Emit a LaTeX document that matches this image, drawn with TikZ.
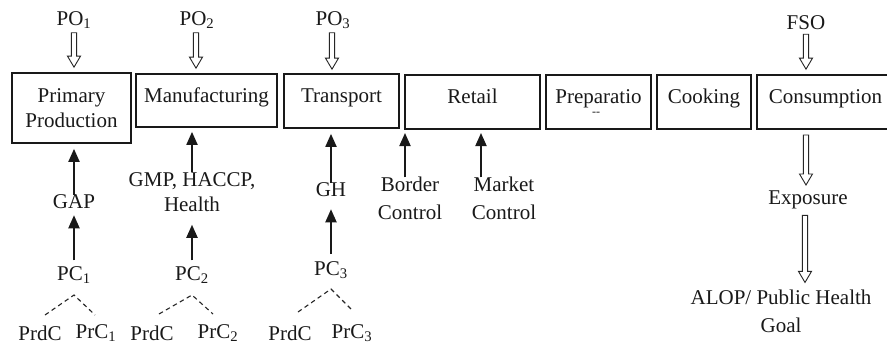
\documentclass[tikz,border=0pt]{standalone}
\usepackage{fontspec}
\setmainfont{Liberation Serif}
\usetikzlibrary{arrows.meta,calc}
\newcommand{\hollowdown}[2]{%
  \draw[hollowarrow] let \p1=(#1), \p2=(#2) in
    (\x1-2.6pt,\y1) -- (\x1-2.6pt,\y2+11pt) -- (\x1-6.5pt,\y2+11pt) -- (\x1,\y2)
    -- (\x1+6.5pt,\y2+11pt) -- (\x1+2.6pt,\y2+11pt) -- (\x1+2.6pt,\y1) -- cycle;}
\begin{document}
\begin{tikzpicture}[x=1pt,y=-1pt,
  every node/.style={font=\fontsize{21}{25}\selectfont, inner sep=2pt, text=black!90},
  stagebox/.style={draw=black!90, line width=1.7pt, inner sep=0pt, minimum height=54pt,
    text height=12pt, text depth=10pt},
  hollowarrow/.style={draw=black!85, line width=0.9pt, fill=white, line join=miter},
  sarrow/.style={draw=black!90, line width=1.9pt, -{Triangle[length=13pt,width=11pt]}},
  dashline/.style={draw=black!85, line width=1.1pt, dash pattern=on 4.5pt off 3.5pt},
  twoline/.style={align=center, font=\fontsize{21}{28}\selectfont},
]
\clip (0,0) rectangle (887,346);
\fill[white] (0,0) rectangle (887,346);

% stage boxes
\node[draw=black!90, line width=1.7pt, inner sep=0pt, minimum width=119pt, minimum height=70pt, align=center]
  (b1) at (71.5,108) {Primary\\Production};
\node[stagebox, minimum width=141pt, minimum height=53pt, text height=13pt] (b2) at (206.5,100.5) {Manufacturing};
\node[stagebox, minimum width=115pt] (b3) at (341.5,101) {Transport};
\node[stagebox, minimum width=135pt] (b4) at (472.5,102) {Retail};
\node[stagebox, minimum width=105pt, text height=7pt, text depth=5pt] (b5) at (598.5,102) {Preparatio};
\node[font=\fontsize{12}{12}\selectfont, inner sep=0pt] (b5cut) at (596,114) {-{}-};
\node[stagebox, minimum width=94pt] (b6) at (704,102) {Cooking};
\node[stagebox, minimum width=137pt] (b7) at (825.5,102) {Consumption};

% top objectives
\node (po1) at (74,20) {PO\textsubscript{1}};
\node (po2) at (197,20) {PO\textsubscript{2}};
\node (po3) at (333,20) {PO\textsubscript{3}};
\node (fso) at (806,23) {FSO};
\hollowdown{[yshift=-2pt]po1.south}{[yshift=5pt]b1.north}
\hollowdown{[xshift=-1pt,yshift=-2pt]po2.south}{[yshift=5pt]b2.north}
\hollowdown{[xshift=-1pt,yshift=-2pt]po3.south}{[yshift=4pt]b3.north}
\hollowdown{[yshift=-2pt]fso.south}{[yshift=5pt]b7.north}

% consumption chain
\node (expo) at (808,200) {Exposure};
\node[twoline] (alop) at (781,311) {ALOP/ Public Health\\Goal};
\coordinate (cs) at (806,135);
\coordinate (ct) at (806,185);
\hollowdown{cs}{ct}
\hollowdown{[xshift=-3pt,yshift=-4pt]expo.south}{[yshift=5pt]alop.north}

% primary production column
\node (gap) at (74,202) {GAP};
\node (pc1) at (74,275) {PC\textsubscript{1}};
\node (prdc1) at (40,333) {PrdC};
\node (prc1) at (96,333) {PrC\textsubscript{1}};
\draw[sarrow, shorten <=-2pt, shorten >=5pt] (gap.north) -- (gap.north |- b1.south);
\draw[sarrow, shorten <=4pt, shorten >=4pt] (pc1.north) -- (gap.south);
\coordinate (t1) at (74,295);
\coordinate (t1l) at (45,315);
\coordinate (t1r) at (95,315);
\draw[dashline] (t1l) -- (t1) -- (t1r);

% manufacturing column
\node[align=center] (gmp) at (192,192) {GMP, HACCP,\\Health};
\node (pc2) at (192,275) {PC\textsubscript{2}};
\node (prdc2) at (152,333) {PrdC};
\node (prc2) at (218,333) {PrC\textsubscript{2}};
\draw[sarrow, shorten <=-2pt, shorten >=4pt] (gmp.north) -- (gmp.north |- b2.south);
\draw[sarrow, shorten <=4pt, shorten >=11pt] (pc2.north) -- (gmp.south);
\coordinate (t2) at (192,295);
\coordinate (t2l) at (159,314);
\coordinate (t2r) at (213,314);
\draw[dashline] (t2l) -- (t2) -- (t2r);

% transport column
\node (gh) at (331,190) {GH};
\node (pc3) at (331,270) {PC\textsubscript{3}};
\node (prdc3) at (290,333) {PrdC};
\node (prc3) at (352,333) {PrC\textsubscript{3}};
\draw[sarrow, shorten <=-2pt, shorten >=5pt] (gh.north) -- (gh.north |- b3.south);
\draw[sarrow, shorten <=5pt, shorten >=10pt] (pc3.north) -- (gh.south);
\coordinate (t3) at (331,289);
\coordinate (t3l) at (298,312);
\coordinate (t3r) at (351,309);
\draw[dashline] (t3l) -- (t3) -- (t3r);

% border and market control
\node[twoline] (border) at (410,198) {Border\\Control};
\node[twoline] (market) at (504,198) {Market\\Control};
\coordinate (bct) at (405,133);
\coordinate (mct) at (481,133);
\draw[sarrow, shorten <=-3pt] (border.north -| bct) -- (bct);
\draw[sarrow, shorten <=-3pt] (market.north -| mct) -- (mct);
\end{tikzpicture}
\end{document}
